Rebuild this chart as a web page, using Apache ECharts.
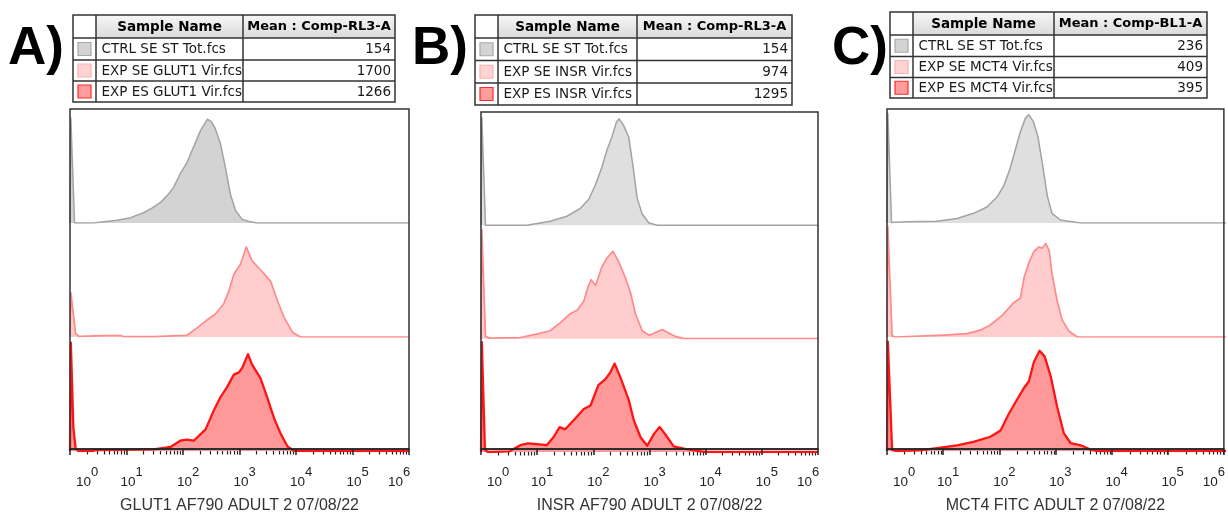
<!DOCTYPE html>
<html>
<head>
<meta charset="utf-8">
<script src="https://cdn.jsdelivr.net/npm/echarts@6/dist/echarts.min.js"></script>
<style>
  html, body { margin: 0; padding: 0; background: #fff; }
  #chart { width: 1228px; height: 519px; }
</style>
</head>
<body>
<div id="chart"></div>
<script>
// ---- data -------------------------------------------------------------
// x: log10 fluorescence intensity (decades), y: % of mode
const decadeTicks = [0, 1, 2, 3, 4, 5, 6];

const panelLetters = ['A)', 'B)', 'C)'];
const axisTitles = ['GLUT1 AF790 ADULT 2 07/08/22', 'INSR AF790 ADULT 2 07/08/22', 'MCT4 FITC ADULT 2 07/08/22'];
const meanHeaders = ['Mean : Comp-RL3-A', 'Mean : Comp-RL3-A', 'Mean : Comp-BL1-A'];

const namesA = ['CTRL SE ST Tot.fcs', 'EXP SE GLUT1 Vir.fcs', 'EXP ES GLUT1 Vir.fcs'];
const namesB = ['CTRL SE ST Tot.fcs', 'EXP SE INSR Vir.fcs', 'EXP ES INSR Vir.fcs'];
const namesC = ['CTRL SE ST Tot.fcs', 'EXP SE MCT4 Vir.fcs', 'EXP ES MCT4 Vir.fcs'];

const meansA = [154, 1700, 1266];
const meansB = [154, 974, 1295];
const meansC = [236, 409, 395];

const ctrlA = [[0,0],[0.015,92],[0.035,92],[0.08,0],[0.41,0],[0.6,1],[0.83,2.4],[1.07,4.7],[1.3,9],[1.45,13],[1.6,18],[1.72,24],[1.83,31],[1.95,43],[2.07,53],[2.19,67],[2.31,81],[2.43,91],[2.5,89],[2.57,83],[2.66,70],[2.75,49],[2.84,25],[2.93,11],[3.05,3],[3.2,1],[3.31,0],[6,0]];
const seA = [[0,0],[0.015,39],[0.035,39],[0.1,3],[0.16,0.5],[0.6,1.2],[0.9,1.2],[0.95,0.4],[1.5,0.4],[1.8,1],[2.07,1.5],[2.25,8],[2.4,14],[2.57,20],[2.72,29],[2.81,40],[2.9,55],[3.02,64],[3.12,79],[3.22,67],[3.37,59],[3.55,49],[3.67,32],[3.79,17],[3.94,4],[4.08,0],[6,0]];
const esA = [[0,0],[0.015,95],[0.03,95],[0.06,20],[0.1,2],[0.15,0],[0.41,0],[0.45,0.8],[1.48,1.5],[1.78,3.5],[1.95,9],[2.07,10],[2.19,9],[2.4,19],[2.54,35],[2.66,47],[2.78,56],[2.9,67],[2.99,69],[3.05,73],[3.15,85],[3.22,76],[3.37,64],[3.49,47],[3.61,29],[3.73,15],[3.85,4],[3.96,0],[6,0]];

const ctrlB = [[0,0],[0.015,95],[0.035,95],[0.08,0],[0.82,0],[1.23,3.6],[1.53,8],[1.77,15],[1.92,23],[2.04,36],[2.15,51],[2.24,66],[2.33,78],[2.41,91],[2.46,94],[2.54,88],[2.63,78],[2.71,51],[2.78,24],[2.87,10],[2.99,2],[3.14,0],[6,0]];
const seB = [[0,0],[0.015,96],[0.035,96],[0.08,2],[0.15,0.5],[0.7,1],[0.99,4],[1.23,7],[1.41,14],[1.59,22],[1.71,25],[1.83,33],[1.9,45],[1.96,52],[2.04,47],[2.15,63],[2.24,71],[2.35,77],[2.45,68],[2.57,54],[2.66,41],[2.75,22],[2.87,7],[2.99,3],[3.11,5.5],[3.23,8],[3.34,5],[3.46,2],[3.61,0],[6,0]];
const esB = [[0,0],[0.015,97],[0.03,97],[0.07,2],[0.12,0],[0.5,0.5],[0.7,6],[0.84,7.6],[0.99,7],[1.17,6],[1.29,13],[1.4,22],[1.5,20],[1.65,28],[1.83,38],[1.95,41],[2.09,59],[2.21,64],[2.3,70],[2.38,78],[2.48,66],[2.63,46],[2.72,28],[2.84,13],[2.96,5.5],[3.08,16],[3.18,22],[3.29,15],[3.43,5],[3.61,3],[3.85,1],[4.0,0],[6,0]];

const ctrlC = [[0,0],[0.015,96],[0.035,96],[0.08,0.5],[0.35,1],[0.88,1.5],[1.24,4],[1.53,8.5],[1.77,14],[1.95,23],[2.07,33],[2.18,48],[2.27,64],[2.36,80],[2.45,92],[2.51,95],[2.59,89],[2.67,76],[2.75,52],[2.84,23],[2.92,8.5],[3.07,2.6],[3.43,0],[6,0]];
const seC = [[0,0],[0.015,97],[0.035,97],[0.09,1],[0.15,0],[1.0,1.7],[1.42,3],[1.65,6],[1.83,10.5],[2.04,19],[2.24,30],[2.36,34],[2.43,53],[2.51,65],[2.6,75],[2.69,79],[2.75,78],[2.81,82],[2.87,76],[2.92,56],[3.01,32],[3.1,15],[3.22,5],[3.37,0],[6,0]];
const esC = [[0,0],[0.015,96],[0.035,96],[0.09,1],[0.15,0],[0.59,0.5],[1.24,5],[1.53,8],[1.83,12.5],[2.01,18],[2.15,32],[2.3,45],[2.42,55],[2.51,61],[2.6,78],[2.7,88],[2.79,83],[2.9,65],[3.01,39],[3.13,15.5],[3.25,7],[3.43,5],[3.61,1],[3.7,0],[6,0]];

// ---- layout & styling -------------------------------------------------
const panels = [
  { names: namesA, means: meansA, curves: [ctrlA, seA, esA] },
  { names: namesB, means: meansB, curves: [ctrlB, seB, esB] },
  { names: namesC, means: meansC, curves: [ctrlC, seC, esC] }
];

const layout = [
  { letterX: 8,   plot: { left: 70,  right: 409,  top: 109, bottom: 451 }, cols: [73, 96, 243, 395],    rows: [15, 38, 60, 81, 102],     grayFill: '#d3d3d3' },
  { letterX: 412, plot: { left: 481, right: 818,  top: 112, bottom: 452 }, cols: [475, 498, 637, 792],  rows: [15, 38, 60.5, 83, 105],   grayFill: '#dfdfdf' },
  { letterX: 832, plot: { left: 887, right: 1226, top: 109, bottom: 451 }, cols: [890, 913, 1054, 1207], rows: [12, 35, 56.5, 77.5, 98], grayFill: '#dfdfdf' }
];

const lineColors = ['#a3a3a3', '#ff8a8a', '#ff1414'];
const lineWidths = [1.5, 1.7, 2.3];
const fillColors = [null, '#ffcdcd', '#ff9999'];
const swatchFill = ['#d3d3d3', '#ffd3d3', '#ff9c9c'];
const swatchStroke = ['#a9a9a9', '#ffb0b0', '#ff2a2a'];

// log-spaced minor tick positions between decades
const minorTickValues = [];
for (let n = 0; n < 6; n++) {
  for (let k = 2; k <= 9; k++) minorTickValues.push(n + Math.log10(k));
}

const tickFont = '"Liberation Sans", Arial, sans-serif';
const tableFont = '"DejaVu Sans", Verdana, sans-serif';

const option = {
  backgroundColor: '#ffffff',
  animation: false,
  grid: [], xAxis: [], yAxis: [], series: [], graphic: []
};

function txt(x, y, text, font, align, fill, z) {
  return {
    type: 'text', x: x, y: y, z: z || 4, silent: true,
    style: { text: text, font: font, fill: fill || '#1a1a1a',
             align: align, textAlign: align, verticalAlign: 'middle', textVerticalAlign: 'middle' }
  };
}

panels.forEach((pn, p) => {
  const L = layout[p];
  const W = L.plot.right - L.plot.left;
  const H = L.plot.bottom - L.plot.top;

  // outer frame with the decade axis
  const fg = option.grid.length;
  option.grid.push({ left: L.plot.left, top: L.plot.top, width: W, height: H,
    show: true, borderColor: '#333', borderWidth: 1.5, backgroundColor: 'transparent', z: 10 });
  option.xAxis.push({
    gridIndex: fg, type: 'value', min: 0, max: 6, interval: 1, position: 'bottom',
    axisLine: { show: true, onZero: false, lineStyle: { color: '#222', width: 1.5 } },
    axisTick: { show: true, length: 6, lineStyle: { color: '#222', width: 1.5 } },
    splitLine: { show: false },
    axisLabel: {
      margin: 16, color: '#222', fontFamily: tickFont,
      formatter: v => v === 0 ? '{b0|10}{s|0}' : (v === 6 ? '{b6|10}{s6|6}' : '{b|10}{s|' + v + '}'),
      rich: {
        b:  { fontSize: 13.5, fontFamily: tickFont, color: '#222', padding: [10, 0, 0, 10] },
        b0: { fontSize: 13.5, fontFamily: tickFont, color: '#222', padding: [10, 0, 0, 34] },
        b6: { fontSize: 13.5, fontFamily: tickFont, color: '#222', padding: [10, 0, 0, 0] },
        s:  { fontSize: 13, fontFamily: tickFont, color: '#222', padding: [0, 0, 10, 0] },
        s6: { fontSize: 13, fontFamily: tickFont, color: '#222', padding: [0, 20, 10, 0] }
      }
    },
    name: axisTitles[p], nameLocation: 'middle', nameGap: 49,
    nameTextStyle: { fontFamily: tickFont, fontSize: 16, color: '#333' },
    z: 10
  });
  option.yAxis.push({ gridIndex: fg, type: 'value', min: 0, max: 1, show: false });

  // three offset histogram lanes
  for (let i = 0; i < 3; i++) {
    const gi = option.grid.length;
    option.grid.push({ left: L.plot.left, top: L.plot.top + H * i / 3, width: W, height: H / 3, show: false });
    const xi = option.xAxis.length;
    option.xAxis.push({
      gridIndex: gi, type: 'value', min: 0, max: 6, show: i === 2,
      axisLine: { show: false }, axisLabel: { show: false }, splitLine: { show: false },
      axisTick: { show: i === 2, inside: false, length: 3.5, customValues: minorTickValues,
                  lineStyle: { color: '#222', width: 1.2 } }
    });
    const yi = option.yAxis.length;
    option.yAxis.push({ gridIndex: gi, type: 'value', min: 0, max: 100, show: false });
    option.series.push({
      type: 'line', name: pn.names[i], xAxisIndex: xi, yAxisIndex: yi,
      data: pn.curves[i], symbol: 'none', smooth: false,
      lineStyle: { color: lineColors[i], width: lineWidths[i], join: 'round' },
      areaStyle: { color: i === 0 ? L.grayFill : fillColors[i], opacity: 1 },
      z: 3
    });
  }

  // panel letter
  option.graphic.push({
    type: 'text', x: L.letterX, y: 49, z: 4, silent: true,
    style: { text: panelLetters[p], font: 'bold 53px "Liberation Sans", Arial, sans-serif', fill: '#000',
             align: 'left', textAlign: 'left', verticalAlign: 'middle', textVerticalAlign: 'middle' }
  });

  // sample table
  const [c0, c1, c2, c3] = L.cols;
  const r = L.rows;
  option.graphic.push({
    type: 'rect', z: 1, silent: true,
    shape: { x: c1, y: r[0], width: c3 - c1, height: r[1] - r[0] },
    style: { fill: new echarts.graphic.LinearGradient(0, 0, 0, 1, [
      { offset: 0, color: '#f7f7f7' }, { offset: 1, color: '#dadada' }]) }
  });
  option.graphic.push(txt((c1 + c2) / 2, (r[0] + r[1]) / 2 + 0.5, 'Sample Name', 'bold 13.5px ' + tableFont, 'center', '#000', 4));
  option.graphic.push(txt((c2 + c3) / 2, (r[0] + r[1]) / 2 + 0.5, meanHeaders[p], 'bold 13px ' + tableFont, 'center', '#000', 4));
  for (let i = 0; i < 3; i++) {
    const yTop = r[i + 1], yBot = r[i + 2], yMid = (yTop + yBot) / 2;
    option.graphic.push({
      type: 'rect', z: 2, silent: true,
      shape: { x: (c0 + c1) / 2 - 6.5, y: yMid - 6.5, width: 13, height: 13 },
      style: { fill: swatchFill[i], stroke: swatchStroke[i], lineWidth: 1.2 }
    });
    option.graphic.push(txt(c1 + 5.5, yMid + 0.5, pn.names[i], '13.5px ' + tableFont, 'left', '#1a1a1a', 2));
    // value cell drawn over any overflow of the name column
    option.graphic.push({
      type: 'rect', z: 3, silent: true,
      shape: { x: c2, y: yTop, width: c3 - c2, height: yBot - yTop },
      style: { fill: '#ffffff' }
    });
    option.graphic.push(txt(c3 - 4, yMid + 0.5, String(pn.means[i]), '13.5px ' + tableFont, 'right', '#1a1a1a', 4));
  }
  const rule = (x1, y1, x2, y2) => ({
    type: 'line', z: 5, silent: true,
    shape: { x1: x1, y1: y1, x2: x2, y2: y2 },
    style: { stroke: '#333', lineWidth: 1.5 }
  });
  option.graphic.push({ type: 'rect', z: 5, silent: true,
    shape: { x: c0, y: r[0], width: c3 - c0, height: r[4] - r[0] },
    style: { fill: 'none', stroke: '#333', lineWidth: 1.5 } });
  option.graphic.push(rule(c1, r[0], c1, r[4]));
  option.graphic.push(rule(c2, r[0], c2, r[4]));
  for (let k = 1; k <= 3; k++) option.graphic.push(rule(c0, r[k], c3, r[k]));
});

const chart = echarts.init(document.getElementById('chart'), null, { renderer: 'canvas' });
chart.setOption(option);
</script>
</body>
</html>
